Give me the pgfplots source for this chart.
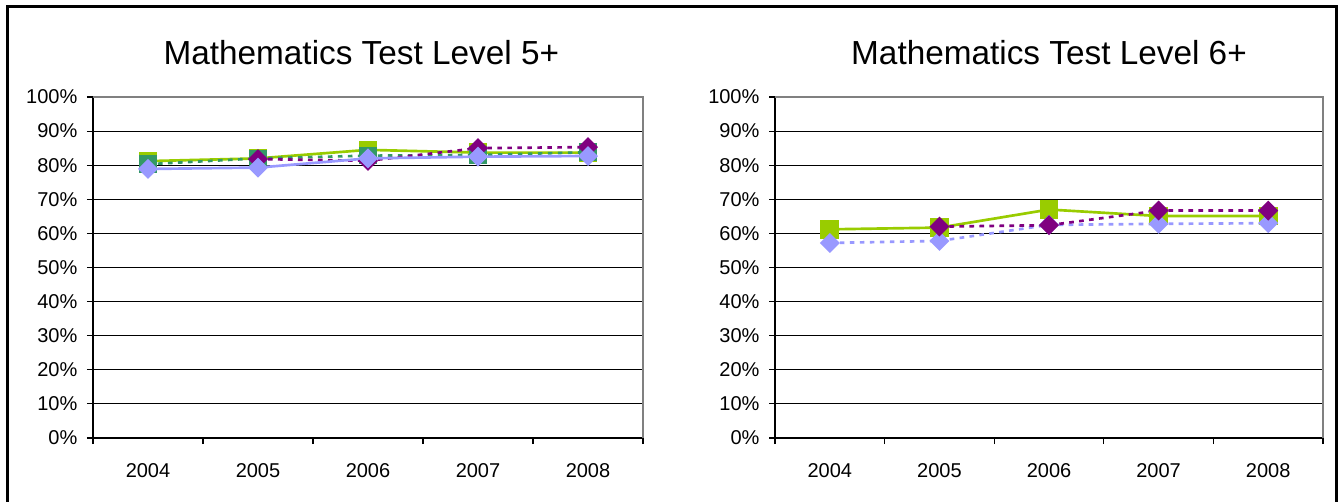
\documentclass[border=0pt]{standalone}
\usepackage{pgfplots}
\pgfplotsset{compat=1.18}
\usepackage{fontspec}
\setmainfont{Liberation Sans}
\definecolor{lgreen}{HTML}{99CC00}
\definecolor{teal2}{HTML}{339966}
\definecolor{purp}{HTML}{800080}
\definecolor{lav}{HTML}{9999FF}
\definecolor{bordgray}{HTML}{808080}
\pgfplotsset{
  mystyle/.style={
    scale only axis, width=412.5pt, height=255.75pt,
    xmin=-0.5, xmax=4.5, ymin=0, ymax=100,
    xtick={0,...,4}, xticklabels={2004,2005,2006,2007,2008},
    minor xtick={-0.5,0.5,...,4.5},
    ytick={0,10,...,100},
    yticklabel={\pgfmathprintnumber{\tick}\%},
    axis x line*=bottom, axis y line*=left,
    axis line style={black, line width=1.1pt, -},
    tick align=outside, major tick length=4.5pt, minor tick length=4.5pt,
    major x tick style={draw=none},
    tick style={black, line width=0.8pt},
    ymajorgrids, major grid style={black, line width=0.75pt},
    ticklabel style={font=\fontsize{15}{18}\selectfont},
    /pgf/number format/assume math mode=true,
    xticklabel style={anchor=north, inner sep=0pt, yshift=-14.5pt},
    yticklabel style={anchor=east, inner sep=0pt, xshift=-7pt},
    title style={font=\fontsize{25}{30}\selectfont, anchor=center, at={(0.5,1)}, yshift=27.5pt},
    clip=false,
  },
  solidsq/.style={line width=2pt, mark=square*, mark size=6pt, mark options={solid}},
  dotsq/.style={line width=2pt, dash pattern=on 3.5pt off 4pt, mark=square*, mark size=5.6pt, mark options={solid}},
  soliddia/.style={line width=2pt, mark=square*, mark size=4.3pt, mark options={solid, rotate=45}},
  dotdia/.style={line width=2pt, dash pattern=on 3.5pt off 4pt, mark=square*, mark size=4.3pt, mark options={solid, rotate=45}},
}
\begin{document}
\begin{tikzpicture}
\path[use as bounding box] (0,0) rectangle (1005.75pt,-375.75pt);
\draw[line width=2.25pt] (5.6pt,-380pt) -- (5.6pt,-4.9pt) -- (1002pt,-4.9pt) -- (1002pt,-380pt);

\begin{axis}[mystyle, at={(69.75pt,-328.5pt)}, anchor=south west,
  title={Mathematics Test Level 5+}, title style={xshift=-5pt}]
\addplot[solidsq, color=lgreen] coordinates {(0,81.2) (1,82.0) (2,84.5) (3,83.7) (4,83.7)};
\addplot[dotsq, color=teal2] coordinates {(0,80.3) (1,82.0) (2,82.8) (3,83.0) (4,83.8)};
\addplot[dotdia, color=purp] coordinates {(1,81.8) (2,81.3) (3,85.0) (4,85.3)};
\addplot[soliddia, color=lav] coordinates {(0,78.9) (1,79.3) (2,82.0) (3,82.5) (4,82.7)};
\draw[bordgray, line width=1.5pt] (rel axis cs:0,1) -- (rel axis cs:1,1) -- (rel axis cs:1,0);
\end{axis}

\begin{axis}[mystyle, at={(581.25pt,-328.5pt)}, anchor=south west, width=411pt,
  title={Mathematics Test Level 6+}]
\addplot[solidsq, color=lgreen] coordinates {(0,61.2) (1,61.7) (2,67.0) (3,65.1) (4,65.1)};
\addplot[dotdia, color=lav] coordinates {(0,57.2) (1,57.8) (2,62.5) (3,62.8) (4,63.0)};
\addplot[dotdia, color=purp] coordinates {(1,62.0) (2,62.4) (3,66.7) (4,66.7)};
\draw[bordgray, line width=1.5pt] (rel axis cs:0,1) -- (rel axis cs:1,1) -- (rel axis cs:1,0);
\end{axis}
\end{tikzpicture}
\end{document}
